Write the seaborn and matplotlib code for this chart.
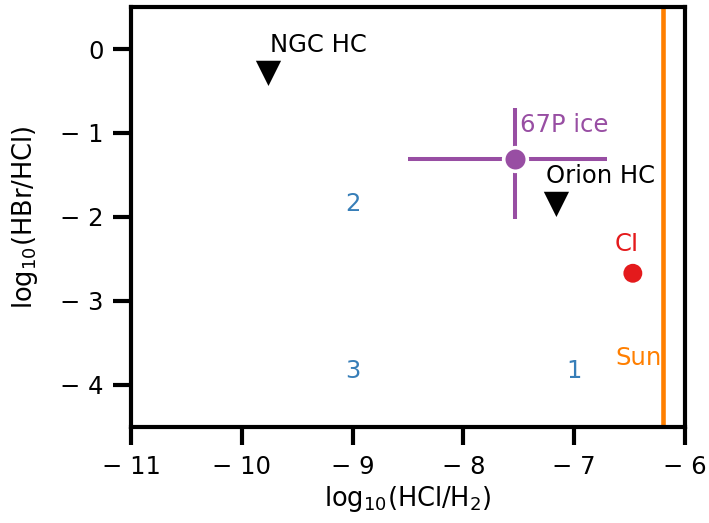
import numpy as np
import pandas as pd
import seaborn as sns
import matplotlib.pyplot as plt

# upper limits (hot cores)
hc_names = ['NGC HC', 'Orion HC']
hc_x = [-9.76, -7.16]
hc_y = [-0.29, -1.85]

# 67P ice with errors
p67_x = -7.53
p67_y = -1.31
p67_xerr = [[0.97], [0.83]]
p67_yerr = [[0.71], [0.61]]

# CI chondrites
ci_x = [-6.47]
ci_y = [-2.67]

# solar value
sun_x = -6.20

# region numbers
region_labels = ['1', '2', '3']
region_x = [-7.0, -9.0, -9.0]
region_y = [-3.83, -1.85, -3.83]

xticks = [-11, -10, -9, -8, -7, -6]
xticklabels = ['\u2212 11', '\u2212 10', '\u2212 9', '\u2212 8', '\u2212 7', '\u2212 6']
yticks = [0, -1, -2, -3, -4]
yticklabels = ['0', '\u2212 1', '\u2212 2', '\u2212 3', '\u2212 4']

sns.set_context('talk')
sns.set_style('ticks', {'axes.edgecolor': 'black', 'text.color': 'black',
                        'axes.labelcolor': 'black', 'xtick.color': 'black',
                        'ytick.color': 'black'})
plt.rcParams['font.family'] = ['DejaVu Sans']

purple = '#984ea3'
red = '#e41a1c'
orange = '#ff7f00'
blue = '#377eb8'

fig = plt.figure(figsize=(7.09, 5.23), dpi=100)
ax = fig.add_axes([0.185, 0.1836, 0.781, 0.803])

ax.axvline(sun_x, color=orange, lw=3.3, zorder=1)

ax.errorbar(p67_x, p67_y, xerr=p67_xerr, yerr=p67_yerr, fmt='o', color=purple,
            ms=17, mec='white', mew=2.6, elinewidth=2.9, capsize=0, zorder=3)

sns.scatterplot(x=hc_x, y=hc_y, marker='v', color='black', s=330, edgecolor='none', ax=ax, zorder=4)
sns.scatterplot(x=ci_x, y=ci_y, marker='o', color=red, s=185, edgecolor='none', ax=ax, zorder=4)

fs = 17.5
ax.text(-9.75, 0.05, 'NGC HC', fontsize=fs, ha='left', va='center')
ax.text(-7.25, -1.51, 'Orion HC', fontsize=fs, ha='left', va='center')
ax.text(-7.49, -0.9, '67P ice', fontsize=fs, ha='left', va='center', color=purple)
ax.text(-6.53, -2.32, 'CI', fontsize=fs, ha='center', va='center', color=red)
ax.text(-6.42, -3.68, 'Sun', fontsize=fs, ha='center', va='center', color=orange)
for lab, x, y in zip(region_labels, region_x, region_y):
    ax.text(x, y, lab, fontsize=fs, ha='center', va='center', color=blue)

ax.set_xlim(-11, -6)
ax.set_ylim(-4.5, 0.5)
ax.set_xticks(xticks)
ax.set_xticklabels(xticklabels)
ax.set_yticks(yticks)
ax.set_yticklabels(yticklabels)
ax.tick_params(width=3, length=13, labelsize=17.5, pad=7)
for sp in ax.spines.values():
    sp.set_linewidth(3)

ax.set_xlabel(r'log$_{10}$(HCl/H$_2$)', fontsize=18.5, labelpad=4)
ax.set_ylabel(r'log$_{10}$(HBr/HCl)', fontsize=18.5, labelpad=14)

fig.savefig('out.png', dpi=100)
